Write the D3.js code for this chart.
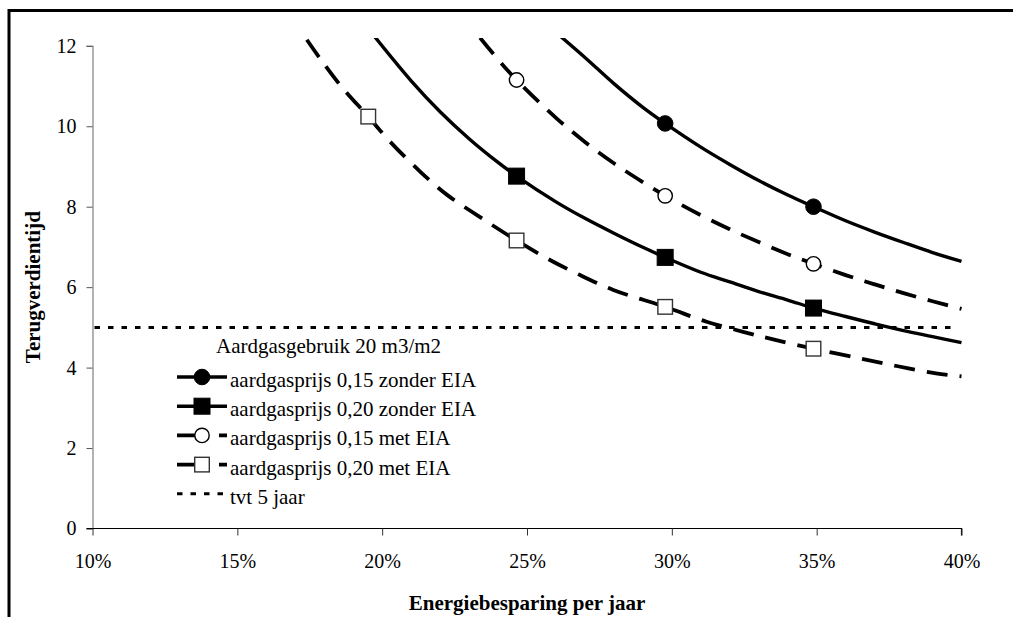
<!DOCTYPE html>
<html>
<head>
<meta charset="utf-8">
<script src="https://cdn.jsdelivr.net/npm/d3@7"></script>
<style>
  html, body { margin: 0; padding: 0; background: #fff; }
  svg { display: block; }
  text { font-family: "Liberation Serif", "Times New Roman", serif; fill: #000; }
</style>
</head>
<body>
<svg id="chart" width="1013" height="617"></svg>
<script>
// Payback time (years) against yearly energy saving (%), gas use 20 m3/m2
const xTicks = [10, 15, 20, 25, 30, 35, 40];
const yTicks = [0, 2, 4, 6, 8, 10, 12];
const targetYears = 5;

// curves: [saving %, payback years]
const price015NoEia = [[26.15,12.24],[27,11.71],[28,11.06],[29,10.47],[29.77,10.07],[31,9.48],[32,9.05],[33,8.65],[34,8.29],[34.89,8.00],[36,7.65],[37,7.37],[38,7.11],[39,6.86],[40,6.64]];
const price020NoEia = [[19.75,12.22],[21,11.13],[22,10.36],[23,9.69],[24,9.10],[24.64,8.76],[26,8.12],[27,7.71],[28,7.34],[29,6.99],[29.77,6.74],[31,6.37],[32,6.13],[33,5.89],[34,5.68],[34.89,5.48],[36,5.27],[37,5.09],[38,4.92],[39,4.77],[40,4.62]];
const price015Eia = [[23.38,12.2],[24,11.66],[24.64,11.15],[26,10.21],[27,9.61],[28,9.08],[29,8.61],[29.77,8.27],[31,7.79],[32,7.44],[33,7.12],[34,6.82],[34.89,6.58],[36,6.30],[37,6.07],[38,5.85],[39,5.65],[40,5.46]];
const price020Eia = [[17.4,12.15],[17.85,11.69],[18.6,10.98],[19.52,10.24],[20.27,9.62],[21.3,8.88],[22.23,8.30],[23.38,7.74],[24.64,7.16],[25.68,6.72],[26.83,6.30],[27.98,5.93],[29.77,5.51],[31.2,5.14],[32.46,4.89],[33.5,4.70],[34.89,4.47],[36.49,4.23],[37.76,4.04],[39.02,3.87],[40,3.78]];

// marked points on each curve
const markers015NoEia = [[29.77,10.07],[34.89,8.00]];
const markers020NoEia = [[24.64,8.76],[29.77,6.74],[34.89,5.48]];
const markers015Eia = [[24.64,11.15],[29.77,8.27],[34.89,6.58]];
const markers020Eia = [[19.52,10.24],[24.64,7.16],[29.77,5.51],[34.89,4.47]];

const legendTitle = "Aardgasgebruik 20 m3/m2";
const seriesLabels = ["aardgasprijs 0,15 zonder EIA", "aardgasprijs 0,20 zonder EIA", "aardgasprijs 0,15 met EIA", "aardgasprijs 0,20 met EIA"];
const targetLabel = "tvt 5 jaar";
const xTitle = "Energiebesparing per jaar";
const yTitle = "Terugverdientijd";

const series = [
  { line: price015NoEia, marks: markers015NoEia, label: seriesLabels[0], dashed: false, shape: "circle", filled: true },
  { line: price020NoEia, marks: markers020NoEia, label: seriesLabels[1], dashed: false, shape: "square", filled: true },
  { line: price015Eia,   marks: markers015Eia,   label: seriesLabels[2], dashed: true,  shape: "circle", filled: false },
  { line: price020Eia,   marks: markers020Eia,   label: seriesLabels[3], dashed: true,  shape: "square", filled: false }
];

const serif = "'Liberation Serif', 'Times New Roman', serif";
const svg = d3.select("#chart");

// outer frame (top and left edges)
svg.append("line").attr("x1", 9).attr("x2", 1013).attr("y1", 10.5).attr("y2", 10.5)
  .attr("stroke", "#000").attr("stroke-width", 3);
svg.append("line").attr("x1", 9).attr("x2", 9).attr("y1", 9).attr("y2", 617)
  .attr("stroke", "#000").attr("stroke-width", 3);

const x = d3.scaleLinear().domain([10, 40]).range([92.5, 961.5]);
const y = d3.scaleLinear().domain([0, 12]).range([528.5, 45.8]);

// y axis
const yAxis = svg.append("g").attr("transform", `translate(${x(10)},0)`)
  .call(d3.axisLeft(y).tickValues(yTicks).tickSize(6).tickPadding(10).tickFormat(d3.format("d")));
yAxis.attr("font-family", serif);
yAxis.select(".domain").attr("stroke", "#808080").attr("stroke-width", 1.2);
yAxis.selectAll(".tick line").attr("stroke", "#555");
yAxis.selectAll(".tick text").attr("font-size", 20).style("font-family", serif);

// x axis
const xAxis = svg.append("g").attr("transform", `translate(0,${y(0)})`)
  .call(d3.axisBottom(x).tickValues(xTicks).tickSize(7).tickSizeOuter(7).tickPadding(18).tickFormat(d => d + "%"));
xAxis.attr("font-family", serif);
xAxis.select(".domain").attr("stroke", "#000").attr("stroke-width", 1.2)
  .attr("d", `M${x(10) - 6},0H${x(40)}V7`);
xAxis.selectAll(".tick line").attr("stroke", "#333");
xAxis.selectAll(".tick text").attr("font-size", 20).style("font-family", serif);

// axis titles
svg.append("text").attr("x", x(25)).attr("y", 610).attr("text-anchor", "middle")
  .attr("font-size", 21).attr("font-weight", "bold").text(xTitle);
svg.append("text").attr("transform", `translate(40,${(y(0) + y(12)) / 2}) rotate(-90)`)
  .attr("text-anchor", "middle").attr("font-size", 21).attr("font-weight", "bold").text(yTitle);

// clip region for curves running off the top
svg.append("clipPath").attr("id", "plotClip").append("rect")
  .attr("x", x(10)).attr("y", 38).attr("width", x(40) - x(10) + 4).attr("height", y(0) - 38);

const plot = svg.append("g").attr("clip-path", "url(#plotClip)");

// 5-year reference line
plot.append("line").attr("x1", x(10) + 2).attr("x2", x(40) - 4)
  .attr("y1", y(targetYears)).attr("y2", y(targetYears))
  .attr("stroke", "#000").attr("stroke-width", 3).attr("stroke-dasharray", "5.5,8");

const lineGen = d3.line().x(d => x(d[0])).y(d => y(d[1])).curve(d3.curveCatmullRom.alpha(0.5));

series.forEach(s => {
  plot.append("path").datum(s.line).attr("d", lineGen)
    .attr("fill", "none").attr("stroke", "#000")
    .attr("stroke-width", s.dashed ? 3.8 : 3.4)
    .attr("stroke-dasharray", s.dashed ? "21,12" : null);
});

function drawMarker(g, s, cx, cy) {
  if (s.shape === "circle") {
    g.append("circle").attr("cx", cx).attr("cy", cy).attr("r", s.filled ? 7.8 : 7.2)
      .attr("fill", s.filled ? "#000" : "#fff").attr("stroke", "#000").attr("stroke-width", s.filled ? 1 : 1.4);
  } else {
    const h = s.filled ? 8 : 7.3;
    g.append("rect").attr("x", cx - h).attr("y", cy - h).attr("width", 2 * h).attr("height", 2 * h)
      .attr("fill", s.filled ? "#000" : "#fff").attr("stroke", s.filled ? "#000" : "#333").attr("stroke-width", s.filled ? 1 : 1.4);
  }
}

const markG = svg.append("g");
series.forEach(s => {
  s.marks.forEach(d => drawMarker(markG, s, x(d[0]), y(d[1])));
});

// legend
const legend = svg.append("g");
const lgX0 = 177, lgX1 = 227, lgTextX = 230, lgY0 = 377, lgStep = 29.2;
legend.append("text").attr("x", 216).attr("y", lgY0 - 24).attr("font-size", 21).text(legendTitle);
series.forEach((s, i) => {
  const ly = lgY0 + i * lgStep;
  legend.append("line").attr("x1", lgX0).attr("x2", lgX1).attr("y1", ly).attr("y2", ly)
    .attr("stroke", "#000").attr("stroke-width", s.dashed ? 3.8 : 3.4)
    .attr("stroke-dasharray", s.dashed ? "20,22" : null);
  drawMarker(legend, s, (lgX0 + lgX1) / 2, ly);
  legend.append("text").attr("x", lgTextX).attr("y", ly + 10).attr("font-size", 21).text(s.label);
});
const tly = lgY0 + 4 * lgStep;
legend.append("line").attr("x1", lgX0).attr("x2", lgX1).attr("y1", tly).attr("y2", tly)
  .attr("stroke", "#000").attr("stroke-width", 3).attr("stroke-dasharray", "5.5,8");
legend.append("text").attr("x", lgTextX).attr("y", tly + 10).attr("font-size", 21).text(targetLabel);
</script>
</body>
</html>
